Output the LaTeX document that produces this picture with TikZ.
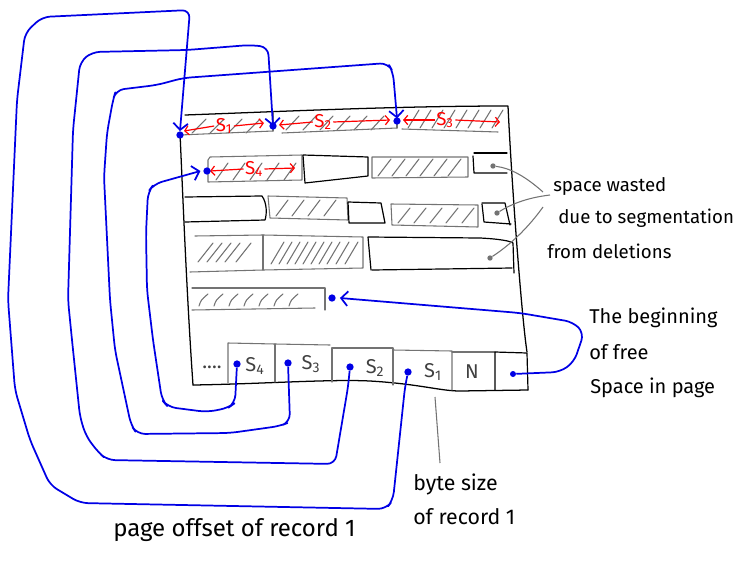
\documentclass[tikz,border=0pt]{standalone}
\usepackage{fontspec}
\setmainfont{Fira Sans}
\usetikzlibrary{arrows.meta}
\tikzset{
  pageline/.style={black, line width=0.95pt, line join=round, line cap=round},
  graybox/.style={black!55, line width=0.8pt, line join=round, line cap=round},
  blackbox/.style={black, line width=0.9pt, line join=round, line cap=round},
  hatch/.style={black!55, line width=0.8pt, line cap=round},
  bluewire/.style={blue!90!black, line width=1.3pt, rounded corners=6pt, line join=round},
  bluearrow/.style={bluewire, -{Straight Barb[length=5pt,width=11pt,line width=1.3pt]}},
  reddim/.style={red, line width=0.9pt, -{Straight Barb[length=3pt,width=7pt]}},
  leader/.style={black!55, line width=0.8pt},
  bdot/.style={circle, fill=blue!90!black, inner sep=0pt, minimum size=5.5pt},
  gdot/.style={circle, fill=black!55, inner sep=0pt, minimum size=4pt},
  lab/.style={anchor=west, font=\fontsize{14}{16}\selectfont, inner sep=0pt},
  slotlab/.style={font=\fontsize{15}{17}\selectfont, text=black!75, inner sep=0pt},
  redlab/.style={font=\fontsize{14}{16}\selectfont, text=red, inner sep=1pt}
}
\begin{document}
\begin{tikzpicture}[x=0.75pt,y=-0.75pt]
\useasboundingbox (0,0) rectangle (735,564);

% ---------- page outline ----------
\draw[pageline] (180,133) .. controls (183,200) and (187,300) .. (193,385);
\draw[pageline] (185,115) .. controls (270,112) and (393,106) .. (508,106)
  .. controls (512,190) and (522,320) .. (527,352);
\draw[pageline] (193,385) .. controls (260,384) and (330,379) .. (370,381)
  .. controls (420,384) and (440,391) .. (460,391) -- (528,390);

% ---------- row 1 ----------
\draw[graybox] (180,135) -- (273,131);
\draw[graybox] (273,112) -- (273,131);
\draw[graybox] (282,133) -- (397,128);
\draw[graybox] (397,120) -- (397,128);
\draw[graybox] (402,129) -- (498,132);
\foreach \x in {192,210,228,246} \draw[hatch] (\x,133) -- ++(14,-14);
\foreach \x in {286,303,320,337,354,371} \draw[hatch] (\x,130) -- ++(13,-14);
\foreach \x in {408,420,432,444,456,468,480,492} \draw[hatch] (\x,128) -- ++(11,-18);
\node[redlab] (l1) at (224,126) {S\textsubscript{1}};
\draw[reddim] (l1.west) -- (184,131);
\draw[reddim] (l1.east) -- (264,123);
\node[redlab] (l2) at (323,122) {S\textsubscript{2}};
\draw[reddim] (l2.west) -- (279,125);
\draw[reddim] (l2.east) -- (390,120);
\node[redlab] (l3) at (445,120) {S\textsubscript{3}};
\draw[reddim] (l3.west) -- (403,120);
\draw[reddim] (l3.east) -- (500,122);

% ---------- row 2 ----------
\draw[graybox] (208,160) -- (210,157) -- (302,155) -- (302,180) -- (208,182) -- cycle;
\foreach \x in {216,233,250,267,284} \draw[hatch] (\x,180) -- ++(12,-17);
\node[redlab] (l4) at (254,169) {S\textsubscript{4}};
\draw[reddim] (l4.west) -- (210,171);
\draw[reddim] (l4.east) -- (295,168);
\draw[blackbox] (303,155) -- (368,157) -- (368,176) -- (305,183) -- cycle;
\draw[graybox] (372,157) -- (468,157) -- (468,177) -- (372,178) -- cycle;
\foreach \x in {378,392,406,420,434,448} \draw[hatch] (\x,176) -- ++(13,-17);
\draw[blackbox] (474,153) -- (507,153);
\draw[blackbox] (473,156) -- (474,173) -- (507,173);

% ---------- row 3 ----------
\draw[blackbox] (185,197) -- (262,196) .. controls (267,203) and (267,214) .. (265,220) -- (185,222);
\draw[graybox] (268,196) -- (347,198) -- (348,220) -- (270,218) -- cycle;
\foreach \x in {276,292,308,324} \draw[hatch] (\x,216) -- ++(12,-16);
\draw[blackbox] (348,202) -- (381,203) -- (385,223) -- (349,223) -- cycle;
\draw[graybox] (391,204) -- (478,205) -- (478,227) -- (392,225) -- cycle;
\foreach \x in {398,414,430,446,462} \draw[hatch] (\x,223) -- ++(12,-15);
\draw[blackbox] (482,203) -- (505,203) -- (510,225);
\draw[blackbox] (482,204) -- (484,222) -- (511,224);

% ---------- row 4 ----------
\draw[graybox] (195,236) -- (263,235) -- (363,237) -- (363,268) -- (263,270) -- (190,272);
\draw[graybox] (263,235) -- (263,270);
\foreach \x in {198,207,216,225,236} \draw[hatch] (\x,262) -- ++(15,-19);
\foreach \x in {271,279,287,295,303,311,319,327,336,345} \draw[hatch] (\x,264) -- ++(13,-22);
\draw[blackbox] (371,270) -- (368,237) -- (480,238) .. controls (500,239) and (510,241) .. (513,243) -- (514,273);
\draw[blackbox] (372,270) -- (512,268);

% ---------- row 5 ----------
\draw[graybox] (192,288) -- (325,288) -- (325,310);
\draw[graybox] (192,310) -- (315,308);
\foreach \x in {199,214,229,244,259,274,289} \draw[hatch] (\x,306) .. controls (\x+2,300) .. (\x+9,294);

% ---------- slot directory ----------
\draw[graybox] (228,383) -- (228,343) -- (275,344) -- (330,345);
\draw[graybox] (275,344) -- (275,382);
\draw[graybox] (332,382) -- (332,348) -- (393,348) -- (393,385);
\draw[graybox] (393,350) -- (452,351) -- (452,390);
\draw[graybox] (452,352) -- (495,352);
\draw[blackbox] (495,390) -- (495,352) -- (527,353) -- (528,390);
\node[slotlab] (dots) at (212,367) {....};
\node[slotlab] (t4) at (255,366) {S\textsubscript{4}};
\node[slotlab] (t3) at (311,364) {S\textsubscript{3}};
\node[slotlab] (t2) at (375,368) {S\textsubscript{2}};
\node[slotlab] (t1) at (433,372) {S\textsubscript{1}};
\node[slotlab] (tn) at (472,372) {N};

% ---------- dots ----------
\node[bdot] (r1) at (180,135) {};
\node[bdot] (r2) at (273,126) {};
\node[bdot] (r3) at (397,121) {};
\node[bdot] (r4) at (207,171) {};
\node[bdot] (fs) at (332,298) {};
\node[bdot] (p4) at (237,364) {};
\node[bdot] (p3) at (288,363) {};
\node[bdot] (p2) at (350,367) {};
\node[bdot] (p1) at (408,372) {};
\node[bdot, minimum size=4.5pt] (pf) at (513,374) {};
\node[gdot] (w1) at (493,166) {};
\node[gdot] (w2) at (497,213) {};
\node[gdot] (w3) at (490,258) {};

% ---------- blue pointers ----------
\draw[bluearrow] (p1) -- (405,387) -- (393,500) -- (386,509) -- (80,503) -- (50,485)
  -- (30,440) -- (15,390) -- (8,300) -- (17,100) -- (25,33) -- (42,17) -- (190,10) -- (r1.north);
\draw[bluearrow] (p2) -- (348,387) -- (335,464) -- (107,460) -- (98,452) -- (86,436)
  -- (80,417) -- (72,340) -- (68,300) -- (73,130) -- (80,62) -- (92,52) -- (187,50)
  -- (250,45) -- (268,47) -- ([yshift=-3pt]r2.north);
\draw[bluearrow] (p3) -- (290,422) -- (280,426) -- (230,433) -- (137,434) -- (131,425)
  -- (115,350) -- (110,300) -- (104,177) -- (107,133) -- (113,100) -- (116,90)
  -- (157,85) -- (183,78) -- (388,63) -- (393,72) -- ([yshift=-1pt]r3.north);
\draw[bluearrow] (p4) -- (235,403) -- (228,408) -- (207,412) -- (168,407) -- (162,400)
  -- (153,340) -- (147,290) -- (146,233) -- (148,192) -- (154,184) -- ([xshift=-2pt]r4.west);
\draw[bluearrow] (pf) -- (560,372) -- (574,362) -- (584,333) -- (573,322) -- (520,313)
  -- ([xshift=3pt]fs.east);

% ---------- annotations ----------
\node[lab] (sw1) at (553,186) {space wasted};
\node[lab] (sw2) at (558,218) {due to segmentation};
\node[lab] (sw3) at (547,251) {from deletions};
\coordinate (c1) at (543,192);
\coordinate (c2) at (550,195);
\coordinate (c3) at (543,207);
\draw[leader] (c1) .. controls (525,176) and (510,168) .. (w1);
\draw[leader] (c2) .. controls (525,198) and (510,205) .. (w2);
\draw[leader] (c3) .. controls (528,228) and (510,245) .. (w3);

\node[lab, font=\fontsize{15}{17}\selectfont] (fb1) at (589,318) {The beginning};
\node[lab, font=\fontsize{15}{17}\selectfont] (fb2) at (589,352) {of free};
\node[lab, font=\fontsize{15}{17}\selectfont] (fb3) at (590,388) {Space in page};

\coordinate (bs) at (435,397);
\node[lab, font=\fontsize{16}{18}\selectfont] (bz1) at (413,484) {byte size};
\node[lab, font=\fontsize{16}{18}\selectfont] (bz2) at (413,517) {of record 1};
\draw[leader] (bs) -- (440,463);

\node[lab, font=\fontsize{18}{20}\selectfont] (po) at (113,530) {page offset of record 1};
\end{tikzpicture}
\end{document}
